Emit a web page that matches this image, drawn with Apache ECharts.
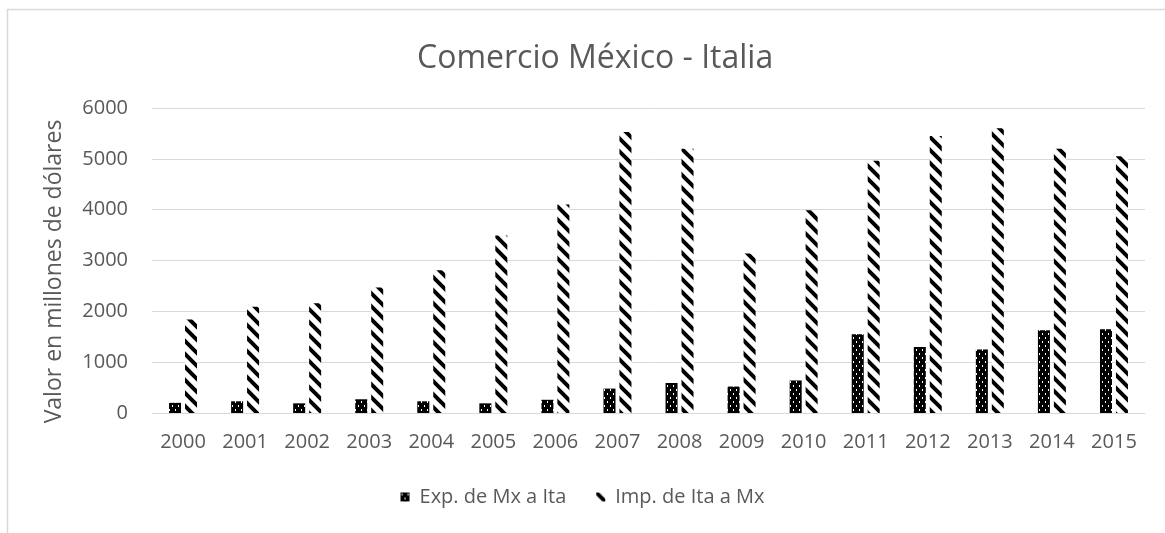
<!DOCTYPE html>
<html>
<head>
<meta charset="utf-8">
<script src="https://cdn.jsdelivr.net/npm/echarts@6/dist/echarts.min.js"></script>
<style>
    html, body { margin: 0; padding: 0; background: #fff; }
    #main { width: 1165px; height: 533px; }
</style>
</head>
<body>
<div id="main"></div>
<script>
// datos
var years = ['2000', '2001', '2002', '2003', '2004', '2005', '2006', '2007', '2008', '2009', '2010', '2011', '2012', '2013', '2014', '2015'];
var expMxIta = [200, 230, 190, 270, 230, 190, 260, 480, 590, 520, 640, 1550, 1300, 1250, 1630, 1650];
var impItaMx = [1840, 2090, 2160, 2470, 2810, 3490, 4100, 5530, 5200, 3140, 3990, 4960, 5450, 5600, 5200, 5050];

var font = '"Open Sans", "Liberation Sans", sans-serif';
var textColor = '#595959';

// trama de puntos (negro con puntos blancos)
function dotPattern() {
    var c = document.createElement('canvas');
    c.width = 6;
    c.height = 8;
    var ctx = c.getContext('2d');
    ctx.fillStyle = '#000';
    ctx.fillRect(0, 0, 6, 8);
    ctx.fillStyle = '#fff';
    ctx.fillRect(1, 1, 1, 2);
    ctx.fillRect(4, 5, 1, 2);
    return { image: c, repeat: 'repeat' };
}

// trama diagonal descendente
function diagPattern() {
    var s = 13;
    var c = document.createElement('canvas');
    c.width = s;
    c.height = s;
    var ctx = c.getContext('2d');
    ctx.fillStyle = '#fff';
    ctx.fillRect(0, 0, s, s);
    ctx.strokeStyle = '#000';
    ctx.lineWidth = 4;
    ctx.beginPath();
    ctx.moveTo(-s, 0); ctx.lineTo(s, 2 * s);
    ctx.moveTo(0, 0); ctx.lineTo(s, s);
    ctx.moveTo(0, -s); ctx.lineTo(2 * s, s);
    ctx.stroke();
    return { image: c, repeat: 'repeat' };
}

var chart = echarts.init(document.getElementById('main'));
chart.setOption({
    animation: false,
    backgroundColor: '#fff',
    title: {
        text: 'Comercio México - Italia',
        left: 412,
        top: 38,
        textStyle: {
            fontFamily: font,
            fontSize: 32,
            fontWeight: 'normal',
            color: textColor
        }
    },
    legend: {
        bottom: 21,
        left: 'center',
        itemWidth: 9,
        itemHeight: 9,
        itemGap: 30,
        icon: 'rect',
        textStyle: {
            fontFamily: font,
            fontSize: 20,
            color: textColor,
            padding: [0, 0, 0, 5]
        },
        data: ['Exp. de Mx a Ita', 'Imp. de Ita a Mx']
    },
    grid: {
        left: 152,
        right: 20,
        top: 108,
        bottom: 120
    },
    xAxis: {
        type: 'category',
        data: years,
        axisTick: { show: false },
        axisLine: { lineStyle: { color: '#d9d9d9', width: 1 } },
        axisLabel: {
            fontFamily: font,
            fontSize: 20,
            color: textColor,
            margin: 19,
            interval: 0
        }
    },
    yAxis: {
        type: 'value',
        min: 0,
        max: 6000,
        interval: 1000,
        name: 'Valor en millones de dólares',
        nameLocation: 'middle',
        nameGap: 86,
        nameTextStyle: {
            fontFamily: font,
            fontSize: 23,
            color: textColor,
            padding: [0, 22, 0, 0]
        },
        axisLine: { show: false },
        axisTick: { show: false },
        axisLabel: {
            fontFamily: font,
            fontSize: 20,
            color: textColor,
            margin: 24,
            formatter: function (v) { return String(v); }
        },
        splitLine: { lineStyle: { color: '#d9d9d9', width: 1 } }
    },
    series: [{
        name: 'Exp. de Mx a Ita',
        type: 'bar',
        barWidth: 12,
        barGap: '33%',
        itemStyle: { color: dotPattern() },
        data: expMxIta
    }, {
        name: 'Imp. de Ita a Mx',
        type: 'bar',
        barWidth: 12,
        itemStyle: { color: diagPattern() },
        data: impItaMx
    }],
    graphic: [{
        type: 'rect',
        silent: true,
        shape: { x: 7.5, y: 9.5, width: 1170, height: 600 },
        style: { fill: 'none', stroke: '#d9d9d9', lineWidth: 1.5 }
    }]
});
</script>
</body>
</html>
